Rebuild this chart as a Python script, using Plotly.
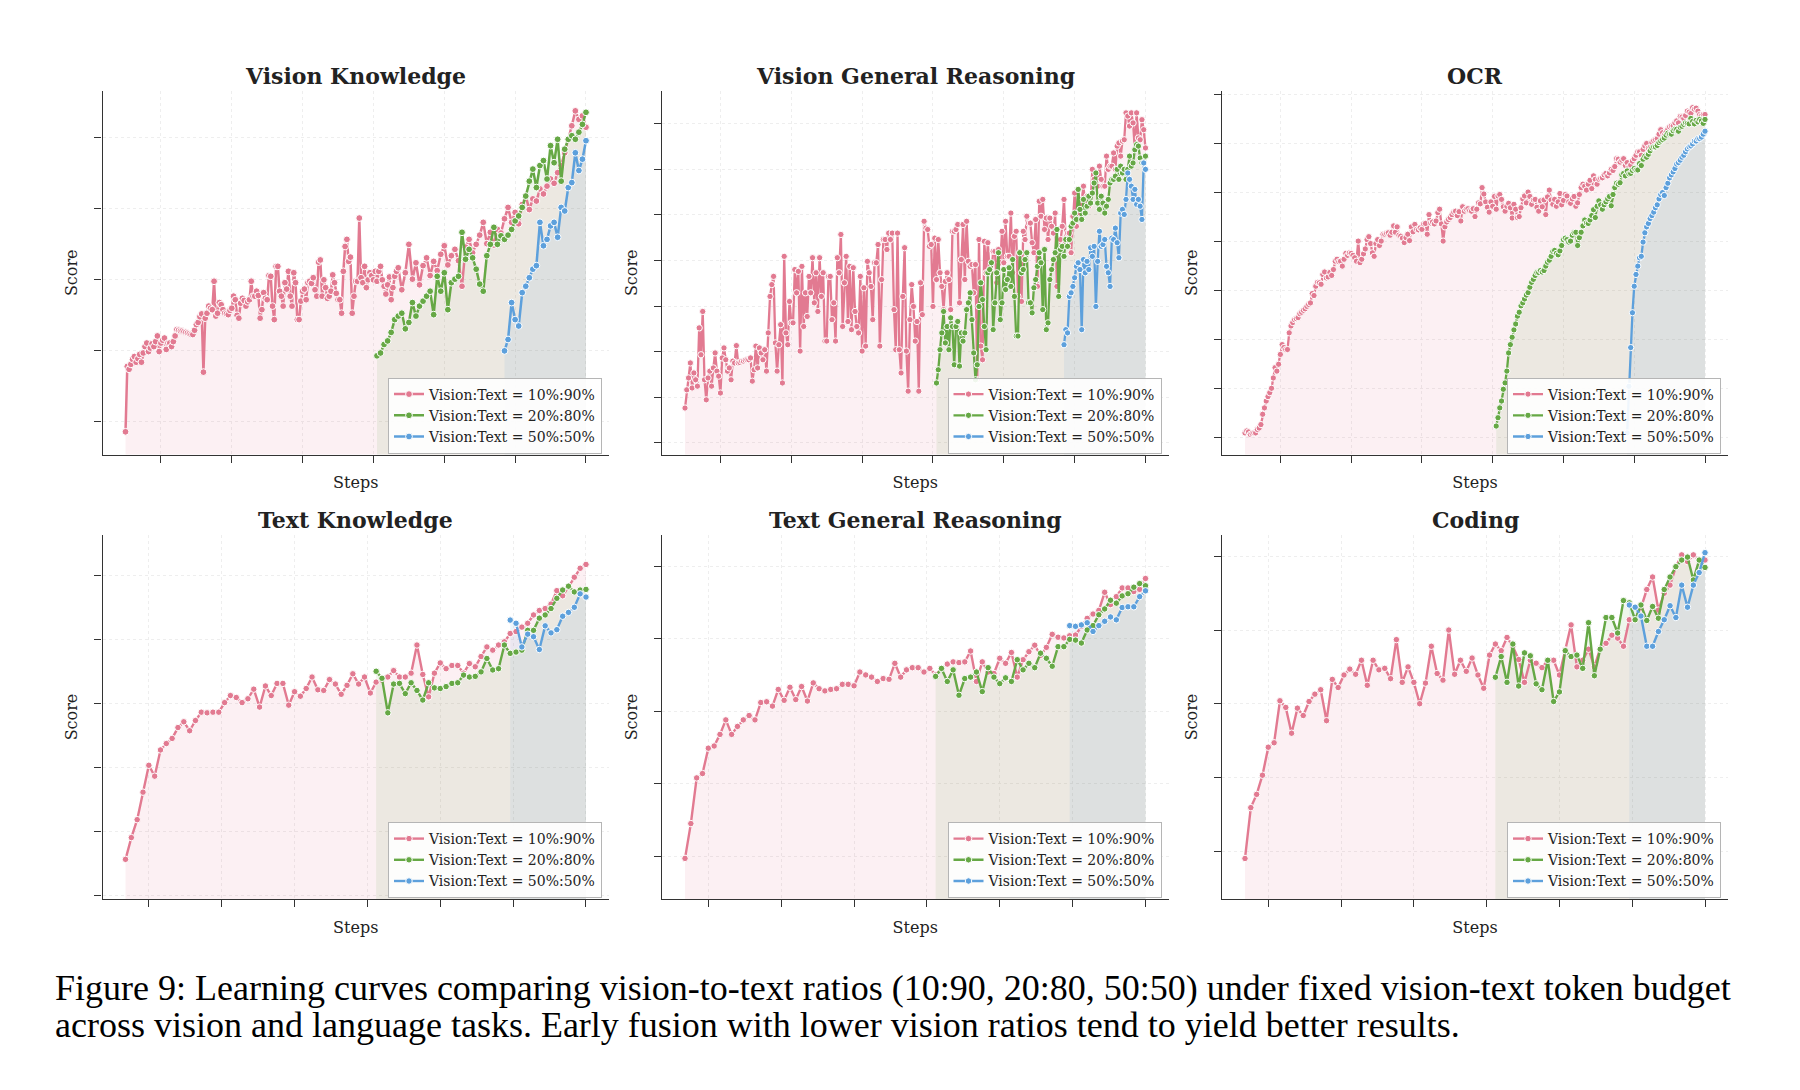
import plotly.graph_objects as go

# ---------------- evaluation steps (x positions of each series) ----------------
vk_10_steps = list(range(500, 4351, 25)) + list(range(4400, 7001, 50))
vk_20_steps = list(range(4050, 7001, 50))
vk_50_steps = list(range(5850, 7001, 50))
vgr_10_steps = list(range(500, 7001, 25))
vgr_20_steps = list(range(4050, 7001, 25))
vgr_50_steps = list(range(5850, 7001, 25))
ocr_10_steps = list(range(500, 7001, 25))
ocr_20_steps = list(range(4050, 7001, 25))
ocr_50_steps = list(range(5900, 7001, 25))
text_10_steps = list(range(680, 7001, 80))
text_20_steps = list(range(4120, 7001, 80))
text_50_steps = list(range(5960, 7001, 80))
x_ticks = [1000, 2000, 3000, 4000, 5000, 6000, 7000]

series_labels = ["Vision:Text = 10%:90%", "Vision:Text = 20%:80%", "Vision:Text = 50%:50%"]
panel_titles = ["Vision Knowledge", "Vision General Reasoning", "OCR",
                "Text Knowledge", "Text General Reasoning", "Coding"]

# ---------------- Vision Knowledge ----------------
vk_10 = [18.5, 27.7, 27.3, 28.0, 28.7, 29.1, 28.3, 28.8, 29.4, 28.3,
         29.6, 30.5, 31.0, 29.8, 30.3, 30.9, 30.5, 31.2, 32.0, 29.8,
         31.0, 31.4, 31.7, 30.1, 31.0, 31.0, 30.5, 31.2, 32.0, 32.9,
         32.8, 32.7, 32.7, 32.6, 32.5, 32.4, 32.3, 32.2, 32.2, 32.8,
         33.6, 33.9, 34.7, 35.1, 26.9, 34.5, 35.2, 36.2, 35.9, 35.7,
         39.7, 34.8, 35.2, 36.7, 36.4, 35.7, 35.2, 35.1, 35.0, 35.6,
         35.9, 37.6, 37.1, 34.9, 34.5, 36.6, 37.3, 37.0, 36.2, 36.8,
         37.1, 39.7, 37.6, 37.6, 38.3, 37.7, 34.5, 35.7, 38.1, 37.3,
         37.1, 40.5, 40.4, 36.2, 34.3, 41.8, 41.8, 38.3, 37.6, 36.2,
         39.5, 38.6, 41.1, 37.6, 36.2, 40.9, 39.5, 34.3, 34.3, 36.9,
         38.3, 38.6, 37.1, 39.5, 39.7, 39.4, 40.2, 38.5, 37.6, 42.4,
         42.7, 37.6, 39.9, 38.8, 37.3, 37.6, 38.3, 40.6, 39.5, 38.0,
         37.1, 37.1, 35.2, 41.1, 44.6, 45.6, 42.5, 43.1, 35.2, 37.6,
         39.7, 39.7, 48.6, 40.2, 39.5, 41.8, 38.8, 39.9, 40.9, 40.5,
         39.9, 41.1, 39.7, 41.1, 41.8, 39.9, 39.0, 37.9, 39.2, 40.3,
         37.1, 38.8, 40.4, 41.1, 41.6,
         38.5, 40.9, 44.9, 40.0, 42.3, 39.2, 41.9, 43.0, 40.5, 42.5,
         41.2, 43.5, 44.7, 42.0, 43.3, 44.2, 42.6, 39.0, 44.5, 45.6,
         43.7, 44.9, 46.2, 48.0, 45.0, 46.6, 44.8, 47.0, 46.5, 48.5,
         50.1, 48.0, 49.4, 47.8, 50.5, 51.7, 49.8, 51.3, 51.0, 52.7,
         52.0, 53.1, 54.1, 53.5, 55.0, 56.0, 57.8, 59.7, 61.6, 63.7,
         62.5, 63.0, 61.4]
vk_20 = [29.2, 29.6, 30.8, 31.3, 32.5, 34.3, 34.8, 35.2, 33.0, 33.9,
         36.7, 34.8, 36.2, 36.9, 37.6, 38.3, 35.0, 40.4, 38.3, 40.9,
         35.7, 39.5, 40.0, 40.4, 46.6, 42.8, 44.2, 43.0, 41.4, 39.3,
         38.3, 43.3, 44.9, 47.3, 44.9, 46.1, 45.6, 46.2, 47.0, 48.2,
         48.9, 50.1, 51.7, 53.8, 55.5, 52.9, 56.0, 56.7, 54.1, 58.8,
         56.4, 59.7, 53.8, 58.3, 59.7, 60.2, 59.7, 60.7, 61.8, 63.5]
vk_50 = [29.9, 31.5, 36.7, 34.3, 33.4, 38.1, 39.0, 40.2, 41.4, 41.9,
         48.0, 44.7, 45.6, 47.5, 48.0, 45.9, 50.1, 49.6, 52.9, 53.6,
         57.8, 55.3, 56.9, 59.5]

# ---------------- Vision General Reasoning ----------------
vgr_10 = [17.6, 21.6, 24.2, 27.5, 22.0, 25.3, 23.8, 22.4, 35.2, 29.3,
          38.8, 23.8, 19.4, 24.2, 25.7, 22.4, 26.4, 29.7, 25.7, 24.6,
          20.9, 28.6, 30.8, 28.2, 25.7, 26.4, 23.8, 27.9, 27.5, 31.3,
          27.5, 27.6, 27.9, 27.9, 28.1, 28.2, 28.2, 28.6, 23.5, 26.0,
          31.2, 26.4, 30.8, 29.7, 28.2, 30.4, 25.7, 34.1, 42.1, 44.7,
          46.5, 31.9, 25.7, 31.5, 35.9, 23.1, 50.9, 34.1, 31.5, 41.0,
          36.3, 36.3, 48.0, 42.9, 47.6, 30.1, 48.7, 35.5, 42.9, 37.7,
          46.5, 42.9, 50.6, 40.7, 47.3, 38.8, 50.6, 42.1, 47.3, 32.3,
          32.3, 46.5, 46.5, 37.0, 40.7, 32.3, 50.6, 47.3, 55.7, 35.5,
          45.1, 50.9, 36.6, 48.7, 34.8, 48.4, 38.8, 35.5, 34.1, 46.5,
          30.1, 44.0, 31.2, 49.8, 47.3, 44.3, 37.0, 49.5, 49.5, 53.5,
          31.2, 45.8, 54.6, 54.6, 52.4, 56.0, 54.6, 56.0, 39.2, 30.4,
          56.0, 30.4, 25.3, 42.1, 52.8, 30.1, 21.3, 37.0, 44.7, 39.9,
          32.3, 36.6, 21.3, 45.1, 38.1, 58.6, 57.1, 56.8, 53.1, 53.5,
          39.9, 54.9, 45.8, 54.6, 47.3, 44.3, 39.2, 45.4, 47.3, 45.8,
          39.2, 56.4, 56.4, 56.8, 57.9, 40.7, 50.2, 57.9, 45.8, 58.6,
          49.8, 48.7, 49.1, 42.9, 49.1, 23.8, 54.6, 31.2, 28.2, 54.2,
          47.3, 53.9, 47.3, 47.3, 52.0, 52.0, 45.1, 52.4, 49.5, 56.4,
          49.5, 58.6, 50.9, 50.9, 60.4, 47.3, 55.3, 56.4, 42.1, 51.7,
          41.0, 56.4, 54.6, 59.7, 58.2, 58.2, 53.9, 51.7, 59.0, 44.3,
          63.0, 59.7, 63.4, 56.8, 59.3, 54.6, 59.3, 57.5, 56.0, 60.4,
          44.3, 50.9, 54.6, 57.5, 63.4, 53.9, 56.0, 56.0, 51.7, 59.7,
          64.8, 57.5, 65.6, 60.4, 63.4, 66.3, 61.9, 64.1, 61.9, 62.6,
          70.0, 67.8, 67.0, 66.3, 70.7, 67.8, 66.3, 66.3, 72.9, 70.0,
          70.7, 70.7, 73.6, 70.0, 75.1, 75.8, 72.9, 76.2, 76.5, 82.4,
          81.7, 79.5, 82.4, 80.2, 74.3, 82.4, 76.9, 76.5, 80.9, 78.7,
          74.7]
vgr_20 = [23.1, 26.0, 30.4, 34.1, 38.8, 31.9, 35.5, 30.4, 37.4, 35.5,
          27.1, 35.5, 36.6, 26.8, 34.1, 32.3, 34.1, 39.2, 40.7, 42.9,
          37.0, 29.7, 23.8, 27.1, 39.9, 45.1, 41.4, 35.5, 30.4, 47.3,
          48.0, 49.5, 34.8, 40.7, 47.3, 51.7, 37.0, 40.7, 48.0, 43.6,
          45.8, 48.4, 44.3, 50.2, 42.1, 33.4, 33.4, 51.7, 47.3, 48.0,
          50.2, 51.7, 40.7, 40.7, 38.5, 44.0, 45.8, 48.7, 51.7, 49.5,
          39.2, 52.4, 34.8, 36.3, 45.8, 48.0, 50.2, 51.7, 56.8, 42.1,
          52.4, 53.1, 50.9, 54.6, 53.1, 54.6, 57.5, 58.2, 60.4, 59.0,
          65.6, 61.2, 59.0, 63.4, 60.4, 61.9, 64.1, 62.6, 64.8, 67.0,
          69.2, 62.6, 61.2, 64.1, 62.6, 60.4, 61.9, 63.4, 67.0, 67.8,
          67.8, 68.5, 70.0, 67.8, 70.7, 69.2, 70.0, 67.8, 70.0, 72.9,
          70.7, 71.4, 74.3, 75.4, 75.1, 72.5, 71.4, 71.4, 72.9]
vgr_50 = [31.5, 34.8, 34.1, 42.1, 42.9, 44.3, 46.2, 48.7, 49.5, 48.0,
          34.8, 50.2, 47.3, 49.8, 48.0, 52.8, 50.9, 53.1, 39.9, 49.8,
          56.4, 53.1, 53.5, 54.6, 48.7, 47.3, 44.3, 54.9, 54.6, 57.1,
          53.9, 50.6, 60.4, 61.2, 60.1, 63.4, 69.2, 67.8, 66.3, 63.4,
          65.6, 62.3, 63.4, 61.9, 59.0, 71.4, 70.0]

# ---------------- OCR ----------------
ocr_10 = [11.0, 11.4, 11.2, 10.7, 10.9, 11.0, 11.0, 11.7, 12.0, 12.7,
          14.8, 16.1, 17.5, 18.4, 19.2, 20.1, 22.2, 24.3, 23.6, 25.0,
          27.0, 29.0, 28.4, 28.0, 28.0, 31.4, 32.8, 33.5, 34.1, 34.3,
          34.5, 35.3, 35.6, 36.0, 36.3, 36.8, 37.2, 37.5, 39.4, 39.0,
          40.9, 41.7, 41.6, 41.3, 43.3, 43.8, 42.6, 42.8, 43.7, 43.1,
          44.3, 46.0, 46.4, 45.9, 46.0, 45.0, 46.4, 47.6, 47.2, 47.7,
          47.6, 47.2, 46.7, 46.0, 50.1, 45.7, 46.4, 47.5, 48.5, 50.4,
          51.0, 49.6, 47.7, 47.0, 49.6, 50.4, 49.2, 50.1, 51.5, 51.5,
          51.7, 51.8, 51.3, 51.9, 53.2, 51.9, 53.0, 51.3, 51.1, 50.7,
          49.8, 50.8, 51.5, 50.2, 53.0, 52.0, 53.5, 52.5, 52.4, 52.8,
          52.5, 53.6, 53.7, 51.5, 55.5, 53.8, 54.0, 53.6, 54.2, 55.9,
          56.6, 53.6, 50.1, 53.0, 54.0, 54.5, 54.9, 55.5, 56.0, 56.2,
          55.3, 56.1, 54.2, 57.1, 56.2, 56.6, 56.7, 56.3, 56.2, 56.7,
          55.1, 56.6, 57.9, 57.7, 61.0, 59.7, 58.1, 57.0, 56.0, 58.1,
          57.2, 59.2, 56.6, 59.3, 59.6, 58.6, 57.1, 56.2, 57.2, 57.8,
          56.9, 54.8, 57.6, 56.6, 54.9, 55.1, 56.9, 58.7, 59.3, 57.9,
          60.1, 59.2, 57.6, 58.5, 58.6, 57.0, 56.2, 58.3, 57.1, 58.5,
          55.5, 59.1, 60.5, 58.5, 57.6, 58.6, 57.2, 58.1, 59.8, 57.5,
          58.4, 59.6, 59.3, 58.1, 57.8, 58.7, 59.2, 57.2, 57.9, 59.6,
          61.0, 61.7, 61.3, 60.5, 61.7, 62.5, 60.8, 63.4, 62.7, 61.7,
          62.7, 62.9, 63.0, 63.6, 63.9, 63.4, 64.0, 64.7, 64.5, 65.3,
          66.9, 66.8, 66.2, 66.6, 66.9, 65.5, 66.1, 65.2, 65.6, 66.4,
          66.9, 67.6, 68.3, 68.3, 67.6, 68.8, 69.5, 70.0, 69.1, 69.2,
          70.2, 70.6, 70.8, 71.0, 71.9, 72.8, 72.2, 71.7, 72.3, 72.9,
          73.4, 73.6, 73.6, 74.2, 74.6, 74.2, 75.5, 75.4, 75.1, 75.7,
          76.6, 76.4, 76.1, 77.3, 77.0, 77.2, 76.6, 75.9, 75.7, 75.9,
          75.9]
ocr_20 = [12.4, 14.1, 16.1, 17.5, 19.9, 21.2, 23.6, 27.3, 29.0, 30.5,
          32.0, 33.2, 34.8, 35.6, 36.9, 37.5, 38.3, 39.1, 39.6, 40.7,
          41.7, 42.3, 43.1, 43.7, 43.7, 44.1, 43.8, 44.1, 45.0, 45.8,
          46.2, 47.0, 48.0, 48.2, 47.6, 47.3, 48.1, 49.2, 50.4, 50.7,
          50.4, 49.9, 50.1, 51.3, 51.8, 51.9, 49.2, 50.8, 51.9, 53.2,
          54.4, 53.8, 53.7, 54.4, 55.3, 56.5, 54.9, 57.2, 58.3, 57.5,
          56.6, 57.5, 58.1, 58.7, 59.2, 57.3, 59.6, 61.0, 61.9, 61.7,
          62.0, 63.6, 63.9, 63.4, 64.4, 63.8, 63.9, 64.5, 64.9, 64.6,
          64.6, 65.9, 65.5, 66.8, 67.4, 67.2, 67.8, 68.5, 69.1, 69.3,
          69.3, 69.6, 70.2, 70.5, 70.8, 71.1, 71.7, 72.1, 71.9, 71.9,
          72.6, 72.9, 72.9, 72.5, 73.3, 73.5, 73.9, 74.2, 74.1, 74.0,
          75.1, 74.5, 74.0, 74.7, 74.4, 74.9, 74.6, 74.1, 74.9]
ocr_50 = [11.0, 20.5, 28.4, 35.5, 40.9, 43.3, 45.0, 46.7, 47.0, 49.9,
          51.8, 53.0, 53.7, 54.7, 55.3, 56.0, 56.9, 57.5, 58.7, 59.6,
          60.0, 59.4, 61.0, 61.9, 63.0, 63.6, 64.2, 64.9, 65.8, 66.1,
          66.6, 67.2, 67.6, 68.3, 68.9, 69.3, 69.5, 69.9, 70.5, 70.5,
          71.0, 71.0, 71.3, 71.9, 72.5]

# ---------------- Text Knowledge ----------------
tk_10 = [15.7, 19.1, 21.9, 26.2, 30.4, 28.7, 32.8, 33.8, 34.6, 36.3,
         37.2, 35.8, 37.4, 38.7, 38.6, 38.7, 38.7, 40.2, 41.3, 41.0,
         40.2, 40.8, 42.3, 39.5, 42.8, 41.3, 43.2, 43.2, 39.8, 41.9,
         41.2, 42.4, 44.2, 42.2, 42.1, 43.8, 43.1, 41.5, 42.9, 44.7,
         43.1, 44.2, 41.7, 43.4, 43.7, 44.2, 45.2, 44.2, 44.2, 44.8,
         49.2, 44.6, 41.1, 44.8, 46.4, 45.5, 46.0, 46.0, 44.8, 46.3,
         45.8, 47.4, 48.9, 48.4, 49.2, 49.7, 51.0, 51.3, 52.0, 52.6,
         53.9, 54.6, 54.9, 55.6, 57.7, 56.9, 58.3, 59.8, 61.2, 61.8]
tk_20 = [45.1, 44.0, 38.6, 43.1, 43.2, 41.6, 43.3, 42.1, 40.6, 43.3,
         42.5, 42.4, 42.7, 43.2, 43.3, 44.5, 44.2, 44.3, 45.0, 47.1,
         45.3, 45.5, 49.2, 47.9, 48.1, 48.4, 51.5, 51.5, 53.4, 53.9,
         54.9, 56.5, 57.8, 58.4, 57.5, 57.8, 57.9]
tk_50 = [53.1, 52.6, 48.9, 50.9, 50.5, 48.5, 52.2, 51.1, 51.6, 53.7,
         54.3, 55.1, 57.2, 56.7]

# ---------------- Text General Reasoning ----------------
tgr_10 = [9.7, 14.5, 20.8, 21.4, 24.9, 25.2, 26.8, 28.8, 26.8, 27.9,
          28.8, 29.4, 28.8, 31.2, 31.3, 30.7, 33.0, 31.5, 33.3, 31.6,
          33.4, 31.4, 33.9, 33.1, 32.8, 33.0, 33.1, 33.7, 33.7, 33.5,
          35.4, 35.0, 34.7, 34.1, 34.5, 34.4, 36.6, 34.7, 35.7, 36.0,
          36.0, 35.4, 35.9, 35.0, 35.9, 36.5, 36.8, 36.7, 36.8, 38.3,
          34.1, 36.8, 35.4, 35.2, 37.3, 36.6, 38.1, 34.7, 37.1, 38.2,
          39.1, 37.7, 38.8, 40.6, 40.2, 40.1, 40.4, 40.5, 41.7, 42.8,
          43.4, 43.9, 46.4, 44.7, 45.8, 47.0, 47.0, 46.5, 46.8, 48.3]
tgr_20 = [34.8, 35.9, 34.1, 35.7, 32.2, 34.5, 34.7, 35.4, 32.7, 36.0,
          34.7, 33.8, 34.6, 34.1, 37.1, 35.7, 36.6, 36.0, 38.0, 37.3,
          36.2, 38.9, 38.9, 39.9, 39.8, 39.4, 41.2, 41.8, 43.3, 44.1,
          45.3, 44.9, 45.9, 46.2, 47.1, 47.6, 47.3]
tgr_50 = [41.8, 41.7, 41.9, 42.2, 41.0, 41.8, 42.4, 43.0, 42.6, 44.3,
          44.4, 44.4, 45.8, 46.6]

# ---------------- Coding ----------------
code_10 = [9.0, 15.9, 17.7, 20.3, 24.1, 24.7, 30.4, 29.5, 26.0, 29.4,
           28.4, 30.3, 31.3, 31.9, 27.7, 33.3, 32.2, 33.9, 34.7, 34.0,
           35.9, 32.5, 35.9, 34.6, 34.8, 33.4, 38.7, 32.9, 35.0, 32.9,
           30.0, 32.8, 37.8, 34.1, 33.2, 40.0, 34.0, 35.9, 34.4, 36.2,
           33.9, 32.1, 36.6, 38.1, 37.2, 39.0, 37.8, 36.0, 32.9, 35.9,
           35.5, 34.9, 35.9, 35.9, 33.9, 37.3, 40.7, 35.0, 35.9, 37.4,
           35.0, 37.5, 38.2, 39.3, 38.9, 37.8, 41.4, 41.6, 43.0, 45.5,
           47.2, 42.7, 45.0, 46.1, 48.6, 50.2, 49.3, 50.2, 49.5, 49.5]
code_20 = [33.6, 36.4, 32.9, 38.1, 32.4, 36.9, 36.5, 32.7, 31.9, 35.9,
           30.3, 31.6, 37.2, 36.4, 36.6, 34.8, 41.0, 33.8, 37.4, 41.7,
           41.7, 39.6, 44.0, 43.7, 41.4, 43.4, 41.3, 43.2, 41.6, 45.5,
           47.2, 48.6, 49.5, 49.9, 46.8, 49.5, 48.5]
code_50 = [43.4, 43.1, 41.9, 37.8, 37.8, 39.8, 41.4, 43.3, 41.7, 46.1,
           43.1, 46.1, 47.8, 50.5]

# y tick values per panel (tick labels are hidden in the original)
vk_yticks = [20, 30, 40, 50, 60]
vgr_yticks = [10, 20, 30, 40, 50, 60, 70, 80]
ocr_yticks = [10, 20, 30, 40, 50, 60, 70, 80]
tk_yticks = [10, 20, 30, 40, 50, 60]
tgr_yticks = [10, 20, 30, 40, 50]
code_yticks = [10, 20, 30, 40, 50]

caption_lines = [
    "Figure 9: Learning curves comparing vision-to-text ratios (10:90, 20:80, 50:50) under fixed vision-text token budget",
    "across vision and language tasks. Early fusion with lower vision ratios tend to yield better results.",
]

# ---------------- styling ----------------
line_colors = ["#E27A91", "#66A845", "#5DA0DC"]
fill_colors = ["rgba(226,122,145,0.11)", "rgba(102,168,69,0.10)", "rgba(93,160,220,0.10)"]
SERIF = "DejaVu Serif"
W, H = 1780, 1070
OFF = 8  # page body margin in the browser


def px_x(px):
    return (px - OFF) / W


def px_y(py):
    return 1 - (py - OFF) / H


# (series as (steps, values), y ticks, y range, marker size, line width)
panels = [
    ([(vk_10_steps, vk_10), (vk_20_steps, vk_20), (vk_50_steps, vk_50)],
     vk_yticks, [15.3, 66.5], 6.8, 2.5),
    ([(vgr_10_steps, vgr_10), (vgr_20_steps, vgr_20), (vgr_50_steps, vgr_50)],
     vgr_yticks, [7.4, 87.2], 6.3, 2.3),
    ([(ocr_10_steps, ocr_10), (ocr_20_steps, ocr_20), (ocr_50_steps, ocr_50)],
     ocr_yticks, [6.6, 80.7], 6.3, 2.3),
    ([(text_10_steps, tk_10), (text_20_steps, tk_20), (text_50_steps, tk_50)],
     tk_yticks, [9.5, 66.4], 6.5, 2.4),
    ([(text_10_steps, tgr_10), (text_20_steps, tgr_20), (text_50_steps, tgr_50)],
     tgr_yticks, [4.1, 54.3], 6.5, 2.4),
    ([(text_10_steps, code_10), (text_20_steps, code_20), (text_50_steps, code_50)],
     code_yticks, [3.5, 52.9], 6.5, 2.4),
]

# axes boxes in screen pixels (left, right) per column and (top, bottom) per row
col_px = [(102.5, 609), (662, 1168.5), (1222, 1728)]
row_px = [(91, 454.5), (535, 899)]

fig = go.Figure()
annotations = []
layout_upd = {}

for i, (series, yticks, yrange, msize, lwidth) in enumerate(panels):
    r, c = divmod(i, 3)
    xn = "x" if i == 0 else f"x{i+1}"
    yn = "y" if i == 0 else f"y{i+1}"
    lg = "legend" if i == 0 else f"legend{i+1}"
    first, last = series[0][0][0], series[0][0][-1]
    span = last - first
    xrange = [first - 0.05 * span, last + 0.05 * span]

    # shaded areas first
    for j, (xs, v) in enumerate(series):
        fig.add_trace(go.Scatter(x=xs, y=v, mode="lines", line=dict(width=0, color=line_colors[j]),
                                 fill="tozeroy", fillcolor=fill_colors[j], showlegend=False,
                                 hoverinfo="skip", xaxis=xn, yaxis=yn))
    # lines + markers
    for j, (xs, v) in enumerate(series):
        fig.add_trace(go.Scatter(x=xs, y=v, mode="lines+markers", name=series_labels[j],
                                 line=dict(color=line_colors[j], width=lwidth),
                                 marker=dict(size=msize, color=line_colors[j],
                                             line=dict(color="white", width=1.0)),
                                 legend=lg, xaxis=xn, yaxis=yn))

    x0, x1 = col_px[c]
    yt, yb = row_px[r]
    axis_common = dict(showline=True, linecolor="#333333", linewidth=1.4, ticks="outside",
                       ticklen=7, tickwidth=1.3, tickcolor="#333333", showticklabels=False,
                       showgrid=True, gridcolor="#eeeeee", griddash="3px,3px", gridwidth=0.8,
                       zeroline=False, mirror=False)
    layout_upd["xaxis" if i == 0 else f"xaxis{i+1}"] = dict(
        axis_common, domain=[px_x(x0), px_x(x1)], range=xrange, tickvals=x_ticks,
        anchor=yn, title=dict(text="Steps", font=dict(family=SERIF, size=16, color="#222"), standoff=15))
    layout_upd["yaxis" if i == 0 else f"yaxis{i+1}"] = dict(
        axis_common, domain=[px_y(yb), px_y(yt)], range=yrange, tickvals=yticks,
        anchor=xn, title=dict(text="Score", font=dict(family=SERIF, size=16, color="#222"), standoff=12))
    layout_upd[lg] = dict(x=px_x(x1 - 7), y=px_y(yb - 1), xanchor="right", yanchor="bottom",
                          bgcolor="rgba(255,255,255,0.9)", bordercolor="#b5b5b5", borderwidth=1,
                          font=dict(family=SERIF, size=14, color="#222"), tracegroupgap=0)
    annotations.append(dict(text=f"<b>{panel_titles[i]}</b>", x=px_x((x0 + x1) / 2),
                            y=px_y(yt - 15), xref="paper", yref="paper", showarrow=False,
                            xanchor="center", yanchor="middle",
                            font=dict(family=SERIF, size=22, color="#222")))

cap_y = [988, 1025]
for k, line in enumerate(caption_lines):
    annotations.append(dict(text=line, x=px_x(54), y=px_y(cap_y[k]), xref="paper", yref="paper",
                            showarrow=False, xanchor="left", yanchor="middle", borderpad=0,
                            font=dict(family="Liberation Serif", size=36, color="black")))

fig.update_layout(width=W, height=H, margin=dict(l=0, r=0, t=0, b=0), autosize=False,
                  paper_bgcolor="white", plot_bgcolor="white", annotations=annotations,
                  **layout_upd)

fig.write_html("out.html")
